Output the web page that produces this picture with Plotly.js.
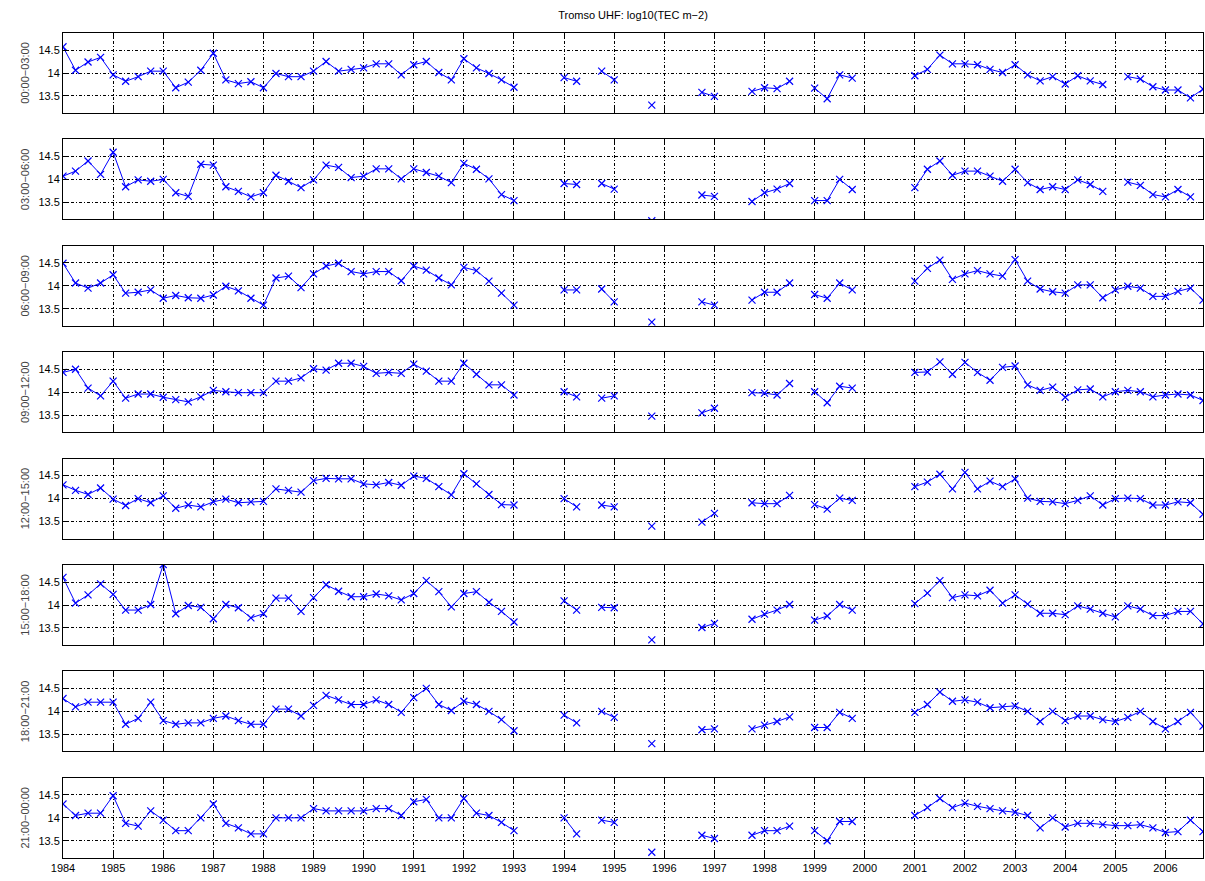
<!DOCTYPE html>
<html>
<head>
<meta charset="utf-8">
<script src="https://cdn.plot.ly/plotly-3.0.1.min.js"></script>
<style>html,body{margin:0;padding:0;background:#fff;}#chart{width:1205px;height:881px;}</style>
</head>
<body>
<div id="chart"></div>
<script>
// sample times: quarterly from 1984.00 to 2006.75
const years = [1984,1985,1986,1987,1988,1989,1990,1991,1992,1993,1994,1995,1996,1997,1998,1999,2000,2001,2002,2003,2004,2005,2006];
const quarterOffsets = [0, 0.25, 0.5, 0.75];
const panelLabels = ["00:00\u221203:00","03:00\u221206:00","06:00\u221209:00","09:00\u221212:00","12:00\u221215:00","15:00\u221218:00","18:00\u221221:00","21:00\u221200:00"];
const yTickVals = [13.5, 14, 14.5];
const yTickText = ["13.5", "14", "14.5"];
const chartTitle = "Tromso UHF: log10(TEC m\u22122)";
const N = null;

// values listed year by year, four quarters per year
const tec_00_03 = [
 14.57,14.06,14.24,14.34, 13.96,13.82,13.92,14.04, 14.04,13.68,13.80,14.06, 14.43,13.85,13.77,13.81,
 13.68,13.99,13.92,13.92, 14.04,14.25,14.04,14.08, 14.11,14.20,14.20,13.96, 14.18,14.25,14.01,13.85,
 14.31,14.11,13.99,13.85, 13.69,N,N,N, 13.90,13.82,N,14.04, 13.85,N,N,13.30,
 N,N,N,13.58, 13.49,N,N,13.60, 13.68,13.66,13.82,N, 13.67,13.44,13.96,13.89,
 N,N,N,N, 13.94,14.08,14.39,14.20, 14.20,14.18,14.08,14.01, 14.18,13.96,13.83,13.92,
 13.76,13.94,13.83,13.75, N,13.92,13.87,13.70, 13.63,13.63,13.46,13.65];
const tec_03_06 = [
 14.07,14.18,14.40,14.11, 14.59,13.84,13.99,13.96, 14.00,13.71,13.63,14.33, 14.31,13.84,13.74,13.62,
 13.71,14.09,13.96,13.82, 13.99,14.31,14.26,14.04, 14.07,14.23,14.23,14.01, 14.23,14.15,14.07,13.93,
 14.35,14.22,14.01,13.67, 13.54,N,N,N, 13.91,13.89,N,13.91, 13.79,N,N,13.10,
 N,N,N,13.66, 13.63,N,N,13.52, 13.71,13.79,13.91,N, 13.54,13.54,14.00,13.78,
 N,N,N,N, 13.82,14.22,14.40,14.09, 14.18,14.18,14.07,13.96, 14.22,13.93,13.78,13.84,
 13.78,13.99,13.89,13.74, N,13.94,13.87,13.67, 13.62,13.78,13.62,N];
const tec_06_09 = [
 14.49,14.06,13.95,14.06, 14.24,13.84,13.86,13.91, 13.73,13.79,13.74,13.73, 13.80,13.99,13.89,13.73,
 13.58,14.17,14.21,13.96, 14.26,14.43,14.49,14.31, 14.26,14.31,14.31,14.11, 14.43,14.34,14.17,14.02,
 14.40,14.33,14.10,13.84, 13.58,N,N,N, 13.91,13.91,N,13.93, 13.65,N,N,13.21,
 N,N,N,13.65, 13.58,N,N,13.69, 13.86,13.86,14.06,N, 13.81,13.73,14.06,13.91,
 N,N,N,N, 14.10,14.38,14.56,14.14, 14.26,14.33,14.26,14.21, 14.57,14.10,13.93,13.87,
 13.84,14.02,14.02,13.74, 13.91,13.99,13.95,13.77, 13.77,13.88,13.95,13.69];
const tec_09_12 = [
 14.43,14.50,14.09,13.92, 14.24,13.87,13.96,13.96, 13.89,13.84,13.79,13.90, 14.04,14.01,13.99,13.99,
 13.99,14.24,14.24,14.31, 14.51,14.48,14.63,14.63, 14.56,14.41,14.43,14.41, 14.61,14.46,14.24,14.24,
 14.63,14.39,14.16,14.16, 13.94,N,N,N, 14.01,13.90,N,13.87, 13.92,N,N,13.48,
 N,N,N,13.55, 13.65,N,N,13.99, 13.98,13.94,14.19,N, 14.01,13.77,14.13,14.09,
 N,N,N,N, 14.43,14.44,14.66,14.39, 14.65,14.43,14.26,14.54, 14.57,14.16,14.04,14.11,
 13.89,14.05,14.07,13.90, 14.01,14.04,14.01,13.90, 13.94,13.96,13.94,13.82];
const tec_12_15 = [
 14.30,14.18,14.09,14.23, 13.99,13.85,14.00,13.91, 14.06,13.79,13.86,13.82, 13.93,13.99,13.91,13.93,
 13.94,14.21,14.18,14.14, 14.39,14.44,14.43,14.43, 14.32,14.30,14.35,14.29, 14.49,14.44,14.26,14.08,
 14.54,14.32,14.09,13.87, 13.86,N,N,N, 14.00,13.82,N,13.86, 13.82,N,N,13.40,
 N,N,N,13.49, 13.68,N,N,13.91, 13.89,13.89,14.07,N, 13.87,13.77,14.01,13.96,
 N,N,N,N, 14.26,14.36,14.53,14.21, 14.57,14.21,14.38,14.26, 14.43,14.01,13.94,13.93,
 13.89,13.96,14.06,13.86, 14.00,14.01,14.00,13.86, 13.86,13.93,13.91,13.66];
const tec_15_18 = [
 14.60,14.04,14.22,14.46, 14.23,13.89,13.89,14.01, 14.88,13.81,13.99,13.95, 13.70,14.01,13.94,13.72,
 13.81,14.15,14.15,13.86, 14.16,14.44,14.30,14.18, 14.18,14.24,14.20,14.11, 14.25,14.53,14.29,13.96,
 14.25,14.29,14.06,13.86, 13.63,N,N,N, 14.09,13.89,N,13.95, 13.94,N,N,13.24,
 N,N,N,13.51, 13.60,N,N,13.69, 13.80,13.89,14.01,N, 13.67,13.76,14.01,13.89,
 N,N,N,N, 14.03,14.26,14.53,14.16, 14.22,14.20,14.32,14.04, 14.22,14.02,13.82,13.82,
 13.79,13.98,13.91,13.82, 13.74,13.98,13.91,13.77, 13.77,13.86,13.86,13.59];
const tec_18_21 = [
 14.28,14.10,14.20,14.20, 14.20,13.72,13.85,14.20, 13.80,13.72,13.75,13.75, 13.85,13.90,13.80,13.72,
 13.72,14.05,14.05,13.90, 14.13,14.35,14.25,14.15, 14.15,14.25,14.15,13.98, 14.30,14.50,14.15,14.02,
 14.22,14.15,14.00,13.82, 13.58,N,N,N, 13.92,13.75,N,14.00, 13.87,N,N,13.30,
 N,N,N,13.60, 13.62,N,N,13.62, 13.70,13.78,13.88,N, 13.65,13.65,13.98,13.85,
 N,N,N,N, 13.98,14.15,14.42,14.22, 14.25,14.20,14.08,14.10, 14.12,14.00,13.78,14.00,
 13.80,13.90,13.90,13.82, 13.78,13.87,14.00,13.78, 13.62,13.78,13.98,13.68];
const tec_21_00 = [
 14.30,14.05,14.10,14.10, 14.48,13.88,13.82,14.15, 13.95,13.72,13.72,14.00, 14.30,13.88,13.78,13.65,
 13.65,14.00,14.00,14.00, 14.20,14.15,14.15,14.15, 14.15,14.20,14.20,14.05, 14.35,14.40,14.00,14.00,
 14.42,14.10,14.05,13.90, 13.72,N,N,N, 14.00,13.65,N,13.95, 13.90,N,N,13.25,
 N,N,N,13.62, 13.55,N,N,13.62, 13.72,13.72,13.82,N, 13.72,13.50,13.92,13.92,
 N,N,N,N, 14.05,14.22,14.42,14.22, 14.32,14.25,14.20,14.15, 14.12,14.05,13.78,14.00,
 13.80,13.88,13.88,13.85, 13.83,13.83,13.85,13.78, 13.68,13.70,13.95,13.70];

const series = [tec_00_03, tec_03_06, tec_06_09, tec_09_12, tec_12_15, tec_15_18, tec_18_21, tec_21_00];

const time = [];
years.forEach(y => quarterOffsets.forEach(q => time.push(y + q)));

const W = 1205, H = 881;
const mT = 33, mB = 23, mL = 63, mR = 2;
const plotH = H - mT - mB;
const panelH = 80, pitch = 106.4;

const traces = [];
const layout = {
  width: W, height: H,
  margin: {l: mL, r: mR, t: mT, b: mB},
  paper_bgcolor: '#fff', plot_bgcolor: '#fff',
  showlegend: false,
  font: {family: 'Liberation Sans, Arial, sans-serif', size: 11, color: '#000'},
  title: {text: chartTitle, x: (mL + (W - mR)) / 2 / W, xanchor: 'center', y: 1 - 15 / H, yanchor: 'middle',
          font: {size: 11, color: '#000'}}
};

series.forEach((vals, i) => {
  const k = i + 1;
  const xa = k === 1 ? 'xaxis' : 'xaxis' + k;
  const ya = k === 1 ? 'yaxis' : 'yaxis' + k;
  traces.push({
    x: time, y: vals, type: 'scatter', mode: 'lines+markers',
    xaxis: 'x' + (k === 1 ? '' : k), yaxis: 'y' + (k === 1 ? '' : k),
    connectgaps: false,
    line: {color: '#0000ff', width: 1},
    marker: {symbol: 'x-thin', size: 7, color: '#0000ff', line: {color: '#0000ff', width: 1.2}}
  });
  const topPx = i * pitch;
  const botPx = topPx + panelH;
  const last = (i === series.length - 1);
  layout[xa] = {
    domain: [0, 1], anchor: 'y' + (k === 1 ? '' : k),
    range: [1984, 2006.75], tickmode: 'array', tickvals: years, ticktext: years.map(String),
    showticklabels: last,
    ticks: 'inside', ticklen: 5, tickcolor: '#000', tickwidth: 1,
    showline: true, linecolor: '#000', linewidth: 1, mirror: 'allticks',
    showgrid: true, gridcolor: '#000', gridwidth: 1, griddash: '3px,2px,1px,2px',
    zeroline: false, tickfont: {size: 11}
  };
  layout[ya] = {
    domain: [1 - botPx / plotH, 1 - topPx / plotH], anchor: 'x' + (k === 1 ? '' : k),
    range: [13.13, 14.87], tickmode: 'array', tickvals: yTickVals, ticktext: yTickText,
    ticks: 'inside', ticklen: 5, tickcolor: '#000', tickwidth: 1,
    showline: true, linecolor: '#000', linewidth: 1, mirror: 'allticks',
    showgrid: true, gridcolor: '#000', gridwidth: 1, griddash: '3px,2px,1px,2px',
    zeroline: false, tickfont: {size: 11},
    title: {text: panelLabels[i], font: {size: 11, color: '#444'}, standoff: 6}
  };
});

Plotly.newPlot('chart', traces, layout, {displayModeBar: false, staticPlot: true});
</script>
</body>
</html>
